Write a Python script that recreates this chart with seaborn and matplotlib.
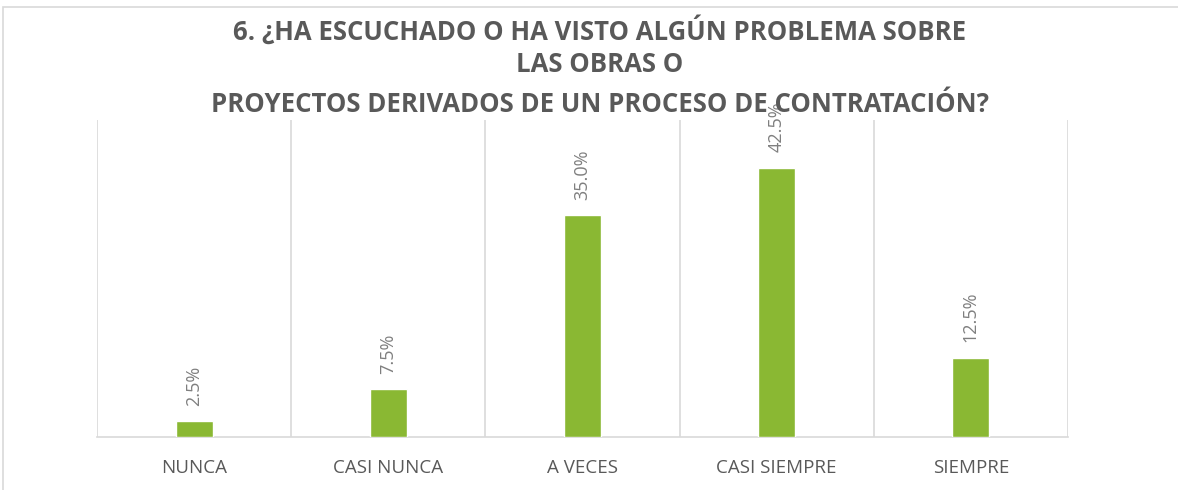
import matplotlib
matplotlib.use("Agg")
import matplotlib.pyplot as plt
import seaborn as sns
import pandas as pd
from matplotlib.patches import Rectangle

# data
categorias = ["NUNCA", "CASI NUNCA", "A VECES", "CASI SIEMPRE", "SIEMPRE"]
porcentajes = [2.5, 7.5, 35.0, 42.5, 12.5]
etiquetas = ["2.5%", "7.5%", "35.0%", "42.5%", "12.5%"]
titulo = ["6. ¿HA ESCUCHADO O HA VISTO ALGÚN PROBLEMA SOBRE",
          "LAS OBRAS O",
          "PROYECTOS DERIVADOS DE UN PROCESO DE CONTRATACIÓN?"]

df = pd.DataFrame({"cat": categorias, "pct": porcentajes})

sns.set_theme(style="white")
plt.rcParams["font.family"] = ["Open Sans", "DejaVu Sans"]

fig = plt.figure(figsize=(11.78, 4.9), dpi=100)
ax = fig.add_axes([97 / 1178, 1 - 437 / 490, (1068 - 97) / 1178, (437 - 120) / 490])

sns.barplot(data=df, x="cat", y="pct", color="#8ab833", width=0.19,
            saturation=1, ax=ax, zorder=3)

ax.set_ylim(0, 50)
ax.set_xlim(-0.5, len(categorias) - 0.5)
ax.set_yticks([])
ax.set_xlabel("")
ax.set_ylabel("")

# vertical gridlines between categories
ax.set_xticks([i - 0.5 for i in range(len(categorias) + 1)], minor=True)
ax.grid(axis="x", which="minor", color="#d9d9d9", linewidth=1.2)
ax.grid(axis="x", which="major", visible=False)
ax.tick_params(axis="x", which="both", length=0, pad=16,
               labelsize=13.5, labelcolor="#595959")

for s in ["top", "right", "left"]:
    ax.spines[s].set_visible(False)
ax.spines["bottom"].set_color("#d9d9d9")
ax.spines["bottom"].set_linewidth(1.2)

for i, (v, t) in enumerate(zip(porcentajes, etiquetas)):
    ax.annotate(t, (i, v), xytext=(0, 11), textcoords="offset points",
                rotation=90, ha="center", va="bottom", fontsize=13,
                color="#7f7f7f", annotation_clip=False, zorder=1)

# chart title
ys = [1 - 31 / 490, 1 - 65 / 490, 1 - 104 / 490]
for linea, y in zip(titulo, ys):
    fig.text(600 / 1178, y, linea, ha="center", va="center", fontsize=18.5,
             fontweight="bold", color="#595959", zorder=5)

# outer chart border
fig.patches.append(Rectangle((3 / 1178, -0.1), 1.2, 1.1 - 7 / 490,
                             transform=fig.transFigure, fill=False,
                             edgecolor="#d9d9d9", linewidth=1.2))

fig.savefig("out.png", dpi=100)
